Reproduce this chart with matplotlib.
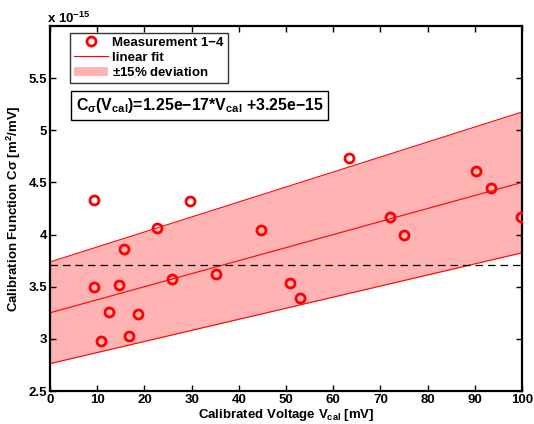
import matplotlib
matplotlib.use("Agg")
import matplotlib.pyplot as plt
import numpy as np

plt.rcParams['font.family'] = ['Liberation Sans', 'DejaVu Sans']
plt.rcParams['font.weight'] = 'bold'
plt.rcParams['axes.labelweight'] = 'bold'
plt.rcParams['mathtext.fontset'] = 'custom'
plt.rcParams['mathtext.rm'] = 'Liberation Sans:bold'
plt.rcParams['mathtext.it'] = 'Liberation Sans:bold'
plt.rcParams['mathtext.bf'] = 'Liberation Sans:bold'

# Messwerte (y in Einheiten von 1e-15 m^2/mV)
v_cal = [9.4, 9.4, 10.9, 12.5, 14.6, 15.6, 16.7, 18.6, 22.7, 25.9, 29.6,
         35.2, 44.7, 50.9, 53.0, 63.4, 72.0, 74.9, 90.3, 93.4, 99.8]
c_sigma = [4.33, 3.50, 2.98, 3.26, 3.52, 3.86, 3.03, 3.24, 4.06, 3.57, 4.32,
           3.62, 4.04, 3.54, 3.39, 4.73, 4.17, 4.00, 4.61, 4.45, 4.17]

# Fit-Parameter aus der Beschriftung
slope = 1.25e-2      # 1.25e-17 in 1e-15-Einheiten
intercept = 3.25
deviation = 0.15
mean_level = 3.71
fit_range = [0, 100]

fig = plt.figure(figsize=(5.34, 4.24), dpi=100)
ax = fig.add_axes([50 / 534, 33 / 424, 472 / 534, 365 / 424])

x_fit = np.linspace(fit_range[0], fit_range[1], 50)
y_fit = slope * x_fit + intercept

ax.fill_between(x_fit, y_fit * (1 - deviation), y_fit * (1 + deviation),
                color='#FFB3B3', linewidth=0, label='$\\pm$15% deviation', zorder=1)
ax.plot(x_fit, y_fit * (1 + deviation), color='red', lw=0.8, zorder=2)
ax.plot(x_fit, y_fit * (1 - deviation), color='red', lw=0.8, zorder=2)
line_fit, = ax.plot(x_fit, y_fit, color='red', lw=0.8, label='linear fit', zorder=2)
ax.axhline(mean_level, color='black', ls=(0, (6, 4)), lw=0.9, zorder=2)
ax.plot(v_cal, c_sigma, 'o', mfc='none', mec='red', mew=2, ms=6.5,
        label='Measurement 1\u22124', zorder=3)

ax.set_xlim(0, 100)
ax.set_ylim(2.5, 6.0)
ax.set_xticks(range(0, 101, 10))
ax.set_yticks([2.5, 3, 3.5, 4, 4.5, 5, 5.5])
ax.set_yticklabels(['2.5', '3', '3.5', '4', '4.5', '5', '5.5'])
ax.tick_params(direction='in', top=True, right=True, labelsize=9.5, width=1, length=4, pad=2)
for s in ax.spines.values():
    s.set_linewidth(1.6)

ax.set_xlabel('Calibrated Voltage $V_{cal}$ [mV]', fontsize=9.5, labelpad=1)
ax.set_ylabel('Calibration Function C\u03c3 [m$^2$/mV]', fontsize=9.5, labelpad=4)
fig.text(50 / 534 - 0.005, 1 - 18 / 424, 'x 10$^{-15}$', fontsize=9.5, va='center', ha='left')

handles, labels = ax.get_legend_handles_labels()
order = [2, 1, 0]
leg = ax.legend([handles[i] for i in order], [labels[i] for i in order],
                loc='upper left', bbox_to_anchor=(0.042, 0.982), fontsize=9.5,
                frameon=True, fancybox=False, edgecolor='black', borderpad=0.3,
                labelspacing=0.2, handlelength=2.6, handletextpad=0.3,
                borderaxespad=0)
leg.get_frame().set_linewidth(1.0)

ax.text(0.055, 0.782, 'C$_{\\sigma}$(V$_{cal}$)=1.25e\u221217*V$_{cal}$ +3.25e\u221215',
        transform=ax.transAxes, fontsize=11.4, va='center', ha='left',
        bbox=dict(boxstyle='square,pad=0.3', fc='white', ec='black', lw=1.0), zorder=5)

fig.savefig('out.png', dpi=100)
